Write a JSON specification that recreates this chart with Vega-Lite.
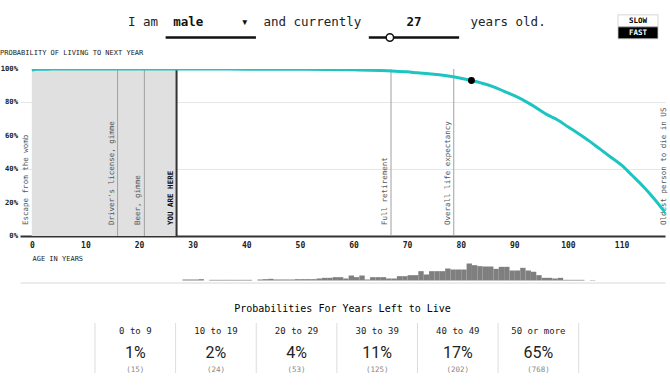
{
  "$schema": "https://vega.github.io/schema/vega-lite/v6.json",
  "padding": 0,
  "background": "white",
  "spacing": 0,
  "config": {
    "font": "DejaVu Sans Mono",
    "view": {"stroke": null},
    "title": {"font": "DejaVu Sans Mono"},
    "axis": {"labelFont": "DejaVu Sans Mono", "titleFont": "DejaVu Sans Mono"}
  },
  "vconcat": [
    {
      "spacing": 10,
      "hconcat": [
        {
          "width": 587,
          "height": 48,
          "layer": [
            {
              "data": {"name": "sentence"},
              "transform": [{"filter": "datum.role === 'word'"}],
              "mark": {"type": "text", "align": "left", "fontSize": 12.5, "color": "#222"},
              "encoding": {
                "x": {"field": "col", "type": "quantitative", "scale": {"domain": [-14.35, 63.65], "nice": false, "zero": false}, "axis": null},
                "y": {"datum": "text", "scale": {"type": "band", "domain": ["text", "line"], "paddingInner": 0, "paddingOuter": 0.548, "align": 0.838}, "axis": null},
                "text": {"field": "token"}
              }
            },
            {
              "data": {"name": "sentence"},
              "transform": [{"filter": "datum.role === 'input'"}],
              "mark": {"type": "text", "align": "left", "fontSize": 12.5, "fontWeight": "bold", "color": "#111"},
              "encoding": {
                "x": {"field": "col", "type": "quantitative"},
                "y": {"datum": "text"},
                "text": {"field": "token"}
              }
            },
            {
              "data": {"name": "controls"},
              "mark": {"type": "rule", "strokeWidth": 2.5, "color": "#111"},
              "encoding": {
                "x": {"field": "from", "type": "quantitative"},
                "x2": {"field": "to"},
                "y": {"datum": "line"}
              }
            },
            {
              "data": {"name": "controls"},
              "transform": [{"filter": "datum.kind === 'slider'"}],
              "mark": {"type": "circle", "fill": "white", "stroke": "#111", "strokeWidth": 1.5, "size": 55, "opacity": 1},
              "encoding": {
                "x": {"field": "knob", "type": "quantitative"},
                "y": {"datum": "line"}
              }
            }
          ]
        },
        {
          "width": 40,
          "height": 48,
          "data": {"values": [{"speed": "SLOW"}, {"speed": "FAST"}]},
          "encoding": {
            "y": {"field": "speed", "type": "nominal", "scale": {"type": "band", "domain": ["SLOW", "FAST"], "paddingInner": 0, "paddingOuter": 1.341, "align": 0.618}, "axis": null}
          },
          "layer": [
            {
              "mark": {"type": "bar", "stroke": "#cccccc", "strokeWidth": 0.8},
              "encoding": {"fill": {"field": "speed", "type": "nominal", "scale": {"domain": ["SLOW", "FAST"], "range": ["#ffffff", "#000000"]}, "legend": null}}
            },
            {
              "mark": {"type": "text", "fontSize": 7.5, "fontWeight": "bold"},
              "encoding": {
                "text": {"field": "speed"},
                "color": {"field": "speed", "type": "nominal", "scale": {"domain": ["SLOW", "FAST"], "range": ["#000000", "#ffffff"]}, "legend": null}
              }
            }
          ]
        }
      ]
    },
    {
      "width": 645,
      "height": 167,
      "title": {"text": "PROBABILITY OF LIVING TO NEXT YEAR", "anchor": "start", "frame": "bounds", "fontSize": 7, "fontWeight": "normal", "color": "#222", "offset": 9.5},
      "layer": [
        {
          "data": {"values": [{"from": 0, "to": 27, "bottom": 0, "top": 1}]},
          "mark": {"type": "rect", "color": "#e0e0e0"},
          "encoding": {
            "x": {"field": "from", "type": "quantitative", "scale": {"domain": [-2.2, 118.1], "nice": false, "zero": false},
              "axis": {"title": "AGE IN YEARS", "titleAnchor": "start", "titleAlign": "left", "titleX": 12, "titleFontSize": 7, "titleFontWeight": "normal", "titleColor": "#222", "titlePadding": 5,
                "values": [0, 10, 20, 30, 40, 50, 60, 70, 80, 90, 100, 110], "labelOverlap": false,
                "labelFontSize": 8, "labelFontWeight": "bold", "labelColor": "#222", "labelPadding": 5, "ticks": false, "domainColor": "#333", "domainWidth": 2, "grid": false, "labelFlush": false}},
            "x2": {"field": "to"},
            "y": {"field": "bottom", "type": "quantitative", "scale": {"domain": [0, 1], "nice": false},
              "axis": {"title": null, "values": [0, 0.2, 0.4, 0.6, 0.8, 1], "labels": false, "ticks": false, "domain": false, "grid": true, "gridColor": "#e6e6e6", "minExtent": 20, "maxExtent": 20}},
            "y2": {"field": "top"}
          }
        },
        {
          "data": {"name": "yticks"},
          "mark": {"type": "text", "align": "right", "dx": -2, "fontSize": 7.2, "fontWeight": "bold", "color": "#222"},
          "encoding": {
            "x": {"datum": -2.2, "type": "quantitative"},
            "y": {"field": "v", "type": "quantitative"},
            "text": {"field": "v", "type": "quantitative", "format": ".0%"}
          }
        },
        {
          "data": {"name": "events"},
          "transform": [{"filter": "datum.kind === 'event' || datum.kind === 'record'"}],
          "mark": {"type": "rule", "color": "#a0a0a0", "strokeWidth": 1, "clip": true},
          "encoding": {"x": {"field": "age", "type": "quantitative"}}
        },
        {
          "data": {"name": "events"},
          "transform": [{"filter": "datum.kind === 'you'"}],
          "mark": {"type": "rule", "color": "#333", "strokeWidth": 2},
          "encoding": {"x": {"field": "age", "type": "quantitative"}}
        },
        {
          "data": {"name": "events"},
          "transform": [{"filter": "datum.kind !== 'you'"}],
          "mark": {"type": "text", "angle": 270, "align": "left", "baseline": "bottom", "dx": 11, "dy": -2, "fontSize": 7.5, "color": "#555"},
          "encoding": {"x": {"field": "age", "type": "quantitative"}, "y": {"datum": 0, "type": "quantitative"}, "text": {"field": "label"}}
        },
        {
          "data": {"name": "events"},
          "transform": [{"filter": "datum.kind === 'you'"}],
          "mark": {"type": "text", "angle": 270, "align": "left", "baseline": "bottom", "dx": 11, "dy": -2, "fontSize": 7.5, "fontWeight": "bold", "color": "#111"},
          "encoding": {"x": {"field": "age", "type": "quantitative"}, "y": {"datum": 0, "type": "quantitative"}, "text": {"field": "label"}}
        },
        {
          "data": {"name": "curve"},
          "mark": {"type": "line", "color": "#1cc4c2", "strokeWidth": 3, "interpolate": "monotone", "clip": true},
          "encoding": {
            "x": {"field": "age", "type": "quantitative"},
            "y": {"field": "p", "type": "quantitative"}
          }
        },
        {
          "data": {"name": "dots"},
          "mark": {"type": "circle", "size": 48, "opacity": 1},
          "encoding": {
            "x": {"field": "age", "type": "quantitative"},
            "y": {"field": "p", "type": "quantitative"},
            "color": {"field": "who", "type": "nominal", "scale": {"domain": ["you", "other"], "range": ["#000000", "#808080"]}, "legend": null}
          }
        }
      ]
    },
    {
      "spacing": 20,
      "vconcat": [
        {
          "width": 645,
          "height": 19.5,
          "data": {"name": "deaths"},
          "mark": {"type": "bar", "color": "#7f7f7f", "binSpacing": 0},
          "encoding": {
            "x": {"field": "age", "type": "quantitative", "bin": {"step": 1, "extent": [0, 120]}, "scale": {"domain": [-2.2, 118.1], "nice": false, "zero": false},
              "axis": {"title": null, "labels": false, "ticks": false, "grid": false, "domainColor": "#d8d8d8", "domainWidth": 1, "offset": 2}},
            "y": {"aggregate": "sum", "field": "n", "type": "quantitative", "scale": {"domain": [0, 58.5], "nice": false}, "axis": null}
          }
        },
        {
          "width": 645,
          "height": 50,
          "title": {"text": "Probabilities For Years Left to Live", "fontSize": 10, "fontWeight": "normal", "color": "#000", "offset": 9},
          "data": {"name": "table"},
          "transform": [{"calculate": "'(' + datum.n + ')'", "as": "count_label"}],
          "encoding": {
            "x": {"field": "range", "type": "nominal", "scale": {"type": "band", "domain": ["0 to 9", "10 to 19", "20 to 29", "30 to 39", "40 to 49", "50 or more"], "paddingInner": 0, "paddingOuter": 1, "align": 0.465}, "axis": null}
          },
          "layer": [
            {
              "mark": {"type": "rule", "color": "#dddddd", "strokeWidth": 1},
              "encoding": {"x": {"field": "range", "type": "nominal", "bandPosition": 0}}
            },
            {
              "transform": [{"filter": "datum.range === '50 or more'"}],
              "mark": {"type": "rule", "color": "#dddddd", "strokeWidth": 1},
              "encoding": {"x": {"field": "range", "type": "nominal", "bandPosition": 1}}
            },
            {
              "mark": {"type": "text", "fontSize": 9, "color": "#222", "dy": 3},
              "encoding": {
                "text": {"field": "range"},
                "y": {"datum": "label", "scale": {"type": "point", "domain": ["label", "share", "count"], "padding": 0.25}, "axis": null}
              }
            },
            {
              "mark": {"type": "text", "fontSize": 16, "font": "Roboto", "color": "#222", "dy": 5},
              "encoding": {"text": {"field": "share", "type": "quantitative", "format": ".0%"}, "y": {"datum": "share"}}
            },
            {
              "mark": {"type": "text", "fontSize": 7.5, "color": "#888", "dy": 2},
              "encoding": {"text": {"field": "count_label"}, "y": {"datum": "count"}}
            }
          ]
        }
      ]
    }
  ],
  "datasets": {
    "yticks": [{"v": 0}, {"v": 0.2}, {"v": 0.4}, {"v": 0.6}, {"v": 0.8}, {"v": 1}],
    "sentence": [
      {"token": "I am", "col": 0, "role": "word"},
      {"token": "male", "col": 6, "role": "input"},
      {"token": "▾", "col": 15, "role": "input"},
      {"token": "and currently", "col": 18, "role": "word"},
      {"token": "27", "col": 37, "role": "input"},
      {"token": "years old.", "col": 45.5, "role": "word"}
    ],
    "controls": [
      {"kind": "select", "from": 5, "to": 17},
      {"kind": "slider", "from": 32, "to": 44, "knob": 34.8}
    ],
    "events": [
      {"age": 0, "label": "Escape from the womb", "kind": "start"},
      {"age": 16, "label": "Driver's license, gimme", "kind": "event"},
      {"age": 21, "label": "Beer, gimme", "kind": "event"},
      {"age": 27, "label": "YOU ARE HERE", "kind": "you"},
      {"age": 67, "label": "Full retirement", "kind": "event"},
      {"age": 78.7, "label": "Overall life expectancy", "kind": "event"},
      {"age": 119, "label": "Oldest person to die in US", "kind": "record"}
    ],
    "curve": [
      {"age": 0, "p": 0.994}, {"age": 1, "p": 0.998}, {"age": 3, "p": 0.999}, {"age": 5, "p": 1.0},
      {"age": 30, "p": 1.0}, {"age": 40, "p": 0.999}, {"age": 50, "p": 0.998}, {"age": 55, "p": 0.997},
      {"age": 60, "p": 0.995}, {"age": 63, "p": 0.993}, {"age": 65, "p": 0.991}, {"age": 67, "p": 0.988},
      {"age": 70, "p": 0.983}, {"age": 72, "p": 0.977}, {"age": 74, "p": 0.972}, {"age": 76, "p": 0.965},
      {"age": 78, "p": 0.956}, {"age": 80, "p": 0.945}, {"age": 82, "p": 0.931}, {"age": 84, "p": 0.915},
      {"age": 86, "p": 0.895}, {"age": 88, "p": 0.868}, {"age": 90, "p": 0.84}, {"age": 92, "p": 0.808},
      {"age": 94, "p": 0.77}, {"age": 95, "p": 0.748}, {"age": 96, "p": 0.728}, {"age": 97, "p": 0.712},
      {"age": 98, "p": 0.696}, {"age": 100, "p": 0.654}, {"age": 102, "p": 0.612}, {"age": 104, "p": 0.568},
      {"age": 106, "p": 0.52}, {"age": 108, "p": 0.472}, {"age": 110, "p": 0.424}, {"age": 112, "p": 0.362},
      {"age": 114, "p": 0.298}, {"age": 116, "p": 0.226}, {"age": 118, "p": 0.146}, {"age": 119, "p": 0.105}
    ],
    "dots": [
      {"age": 82, "p": 0.931, "who": "you"},
      {"age": 82, "p": 0.56, "who": "other"},
      {"age": 68, "p": 0.155, "who": "other"},
      {"age": 84, "p": 0.155, "who": "other"}
    ],
    "deaths": [
      {"age": 28, "n": 3}, {"age": 29, "n": 3}, {"age": 30, "n": 3}, {"age": 31, "n": 4},
      {"age": 33, "n": 2}, {"age": 34, "n": 2}, {"age": 35, "n": 2}, {"age": 36, "n": 2}, {"age": 37, "n": 2},
      {"age": 38, "n": 2}, {"age": 39, "n": 2}, {"age": 40, "n": 2},
      {"age": 42, "n": 3}, {"age": 43, "n": 4}, {"age": 44, "n": 5}, {"age": 45, "n": 3}, {"age": 46, "n": 3},
      {"age": 47, "n": 3}, {"age": 48, "n": 3}, {"age": 49, "n": 4}, {"age": 50, "n": 4}, {"age": 51, "n": 4},
      {"age": 52, "n": 4}, {"age": 53, "n": 6}, {"age": 54, "n": 8}, {"age": 55, "n": 8}, {"age": 56, "n": 10},
      {"age": 57, "n": 10}, {"age": 58, "n": 6}, {"age": 59, "n": 15}, {"age": 60, "n": 10}, {"age": 61, "n": 15},
      {"age": 62, "n": 3}, {"age": 63, "n": 10}, {"age": 64, "n": 10}, {"age": 65, "n": 10}, {"age": 66, "n": 6},
      {"age": 67, "n": 6}, {"age": 68, "n": 13}, {"age": 69, "n": 13}, {"age": 70, "n": 16}, {"age": 71, "n": 16},
      {"age": 72, "n": 28}, {"age": 73, "n": 18}, {"age": 74, "n": 28}, {"age": 75, "n": 28}, {"age": 76, "n": 28},
      {"age": 77, "n": 36}, {"age": 78, "n": 33}, {"age": 79, "n": 33}, {"age": 80, "n": 33}, {"age": 81, "n": 51},
      {"age": 82, "n": 46}, {"age": 83, "n": 43}, {"age": 84, "n": 42}, {"age": 85, "n": 42}, {"age": 86, "n": 35},
      {"age": 87, "n": 41}, {"age": 88, "n": 41}, {"age": 89, "n": 30}, {"age": 90, "n": 30}, {"age": 91, "n": 38},
      {"age": 92, "n": 30}, {"age": 93, "n": 26}, {"age": 94, "n": 16}, {"age": 95, "n": 8}, {"age": 96, "n": 8},
      {"age": 97, "n": 6}, {"age": 98, "n": 8}, {"age": 99, "n": 2}, {"age": 100, "n": 2}, {"age": 101, "n": 2},
      {"age": 102, "n": 2}, {"age": 104, "n": 1}
    ],
    "table": [
      {"range": "0 to 9", "share": 0.01, "n": 15},
      {"range": "10 to 19", "share": 0.02, "n": 24},
      {"range": "20 to 29", "share": 0.04, "n": 53},
      {"range": "30 to 39", "share": 0.11, "n": 125},
      {"range": "40 to 49", "share": 0.17, "n": 202},
      {"range": "50 or more", "share": 0.65, "n": 768}
    ]
  }
}
